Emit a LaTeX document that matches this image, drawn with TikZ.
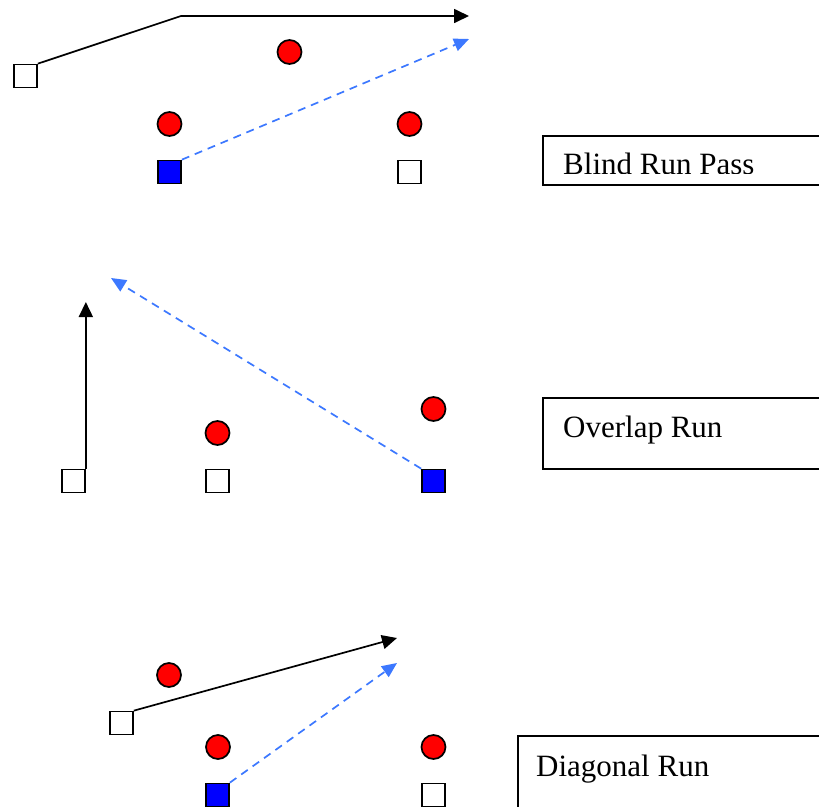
\documentclass[tikz,border=0pt]{standalone}
\usepackage{fontspec}
\setmainfont{Liberation Serif}
\usetikzlibrary{arrows.meta}
\definecolor{runblue}{RGB}{60,120,255}
\begin{document}
\begin{tikzpicture}[x=1pt,y=-1pt,
  att/.style={rectangle,draw,line width=1.7pt,minimum size=23pt,inner sep=0pt,fill=white},
  carrier/.style={att,fill=blue},
  def/.style={circle,draw,line width=1.7pt,fill=red,minimum size=24pt,inner sep=0pt},
  run/.style={line width=1.7pt,-{Triangle[length=15pt,width=14pt]}},
  pass/.style={line width=1.7pt,runblue,dash pattern=on 8pt off 6pt,-{Triangle[length=15pt,width=13pt]}},
  labelbox/.style={rectangle,draw,line width=1.6pt,anchor=north west,inner sep=0pt},
  labeltext/.style={anchor=base west,inner sep=0pt,font=\fontsize{31}{36}\selectfont}]
\useasboundingbox (0,0) rectangle (819,806);
\clip (0,0) rectangle (819,806);
% ---------- Blind Run Pass ----------
\node[att] (a1) at (25.5,76) {};
\node[def] (d1) at (289.5,52) {};
\node[def] (d2) at (169.5,124) {};
\node[def] (d3) at (409.5,124) {};
\node[carrier] (c1) at (169.5,172) {};
\node[att] (a2) at (409.5,172) {};
\coordinate (k1) at (181,16);
\coordinate (e1) at (469,16);
\coordinate (p1) at (469,39);
\draw[run] (a1.north east) -- (k1) -- (e1);
\draw[pass] (c1.north east) -- (p1);
\node[labelbox,minimum width=300pt,minimum height=49pt] (b1) at (542,135) {};
\begin{scope}
\clip (542,135) rectangle (830,173);
\node[labeltext] (t1) at (563,174.5) {Blind Run Pass};
\end{scope}
% ---------- Overlap Run ----------
\node[att] (a3) at (73.5,481) {};
\node[att] (a4) at (217.5,481) {};
\node[def] (d4) at (217.5,433) {};
\node[def] (d5) at (433.5,409) {};
\node[carrier] (c2) at (433.5,481) {};
\coordinate (e2) at (a3.north east |- 0,302);
\coordinate (p2) at (111,278);
\draw[run] (a3.north east) -- (e2);
\draw[pass] (c2.north west) -- (p2);
\node[labelbox,minimum width=300pt,minimum height=71pt] (b2) at (542,397) {};
\node[labeltext] (t2) at (563,437) {Overlap Run};
% ---------- Diagonal Run ----------
\node[att] (a5) at (121.5,723) {};
\node[def] (d6) at (169,675) {};
\node[def] (d7) at (218,747) {};
\node[def] (d8) at (433.5,747) {};
\node[carrier] (c3) at (217.5,795) {};
\node[att] (a6) at (433.5,795) {};
\coordinate (e3) at (397,638);
\coordinate (p3) at (397,663);
\draw[run] (a5.north east) -- (e3);
\draw[pass] (c3.north east) -- (p3);
\node[labelbox,minimum width=320pt,minimum height=90pt] (b3) at (517,735) {};
\node[labeltext] (t3) at (536,776) {Diagonal Run};
\end{tikzpicture}
\end{document}
